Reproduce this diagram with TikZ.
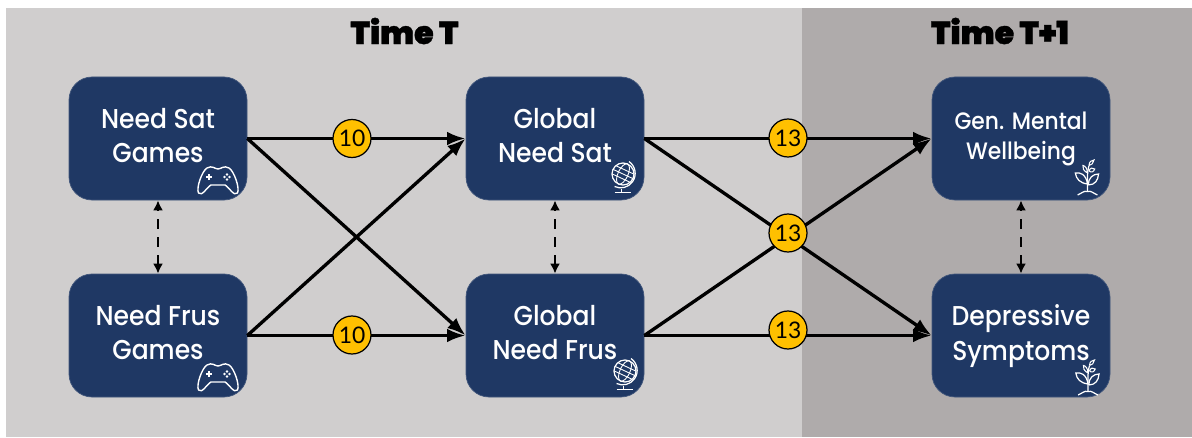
\documentclass[tikz,border=0pt]{standalone}
\usepackage{fontspec}
\setmainfont[FakeStretch=0.92]{Poppins Medium}
\newfontfamily\titlefont[FakeBold=1.2]{Poppins Black}
\newfontfamily\badgefont{Lato}
\usetikzlibrary{arrows.meta}
\definecolor{navyblock}{HTML}{1F3864}
\definecolor{paneltime}{HTML}{D0CECE}
\definecolor{paneltimenext}{HTML}{AFABAB}
\definecolor{badgegold}{HTML}{FFC000}
\tikzset{
    gamepad/.pic={
        \draw[white, line width=0.8pt, line join=round]
            (-0.22,0.26) .. controls (-0.12,0.32) and (-0.06,0.24) .. (0,0.24)
            .. controls (0.06,0.24) and (0.12,0.32) .. (0.22,0.26)
            .. controls (0.32,0.2) and (0.44,-0.14) .. (0.39,-0.24)
            .. controls (0.32,-0.32) and (0.22,-0.12) .. (0.14,-0.08)
            -- (-0.14,-0.08)
            .. controls (-0.22,-0.12) and (-0.32,-0.32) .. (-0.39,-0.24)
            .. controls (-0.44,-0.14) and (-0.32,0.2) .. (-0.22,0.26) -- cycle;
        \draw[white, line width=0.7pt] (-0.24,0.08) -- (-0.12,0.08) (-0.18,0.02) -- (-0.18,0.14);
        \draw[white, line width=0.6pt] (0.18,0.13) circle (0.014) (0.18,0.03) circle (0.014)
            (0.13,0.08) circle (0.014) (0.23,0.08) circle (0.014);
    },
    globe/.pic={
        \draw[white, line width=0.7pt] (0,0.08) circle (0.22);
        \begin{scope}[rotate around={-25:(0,0.08)}]
            \draw[white, line width=0.5pt] (0,0.08) ellipse (0.1 and 0.22);
            \draw[white, line width=0.5pt] (-0.2,0.17) -- (0.2,0.17) (-0.22,0.08) -- (0.22,0.08) (-0.2,-0.01) -- (0.2,-0.01);
        \end{scope}
        \draw[white, line width=0.7pt] (0.12,0.33) arc (55:-115:0.29);
        \draw[white, line width=0.8pt] (-0.03,-0.21) -- (-0.03,-0.27) (-0.17,-0.29) -- (0.15,-0.29);
    },
    plant/.pic={
        \draw[white, line width=0.7pt] (0,-0.27) .. controls (0,-0.1) and (-0.02,0.1) .. (0.04,0.25);
        \draw[white, line width=0.7pt] (-0.26,-0.34) .. controls (-0.14,-0.3) and (-0.1,-0.25) .. (0,-0.27)
            .. controls (0.1,-0.25) and (0.14,-0.3) .. (0.26,-0.34);
        \draw[white, line width=0.7pt] (0,-0.12) .. controls (-0.2,-0.1) and (-0.3,-0.02) .. (-0.32,0.1)
            .. controls (-0.2,0.12) and (-0.04,0.08) .. (0,-0.12);
        \draw[white, line width=0.7pt] (0.02,-0.14) .. controls (0.02,0) and (0.14,0.08) .. (0.29,0.08)
            .. controls (0.28,-0.04) and (0.2,-0.14) .. (0.02,-0.14);
        \draw[white, line width=0.6pt] (0,0.1) .. controls (-0.1,0.14) and (-0.14,0.2) .. (-0.12,0.25) .. controls (-0.06,0.25) and (0,0.18) .. (0,0.1);
        \draw[white, line width=0.6pt] (0.04,0.14) .. controls (0.06,0.2) and (0.14,0.22) .. (0.19,0.18) .. controls (0.16,0.12) and (0.1,0.1) .. (0.04,0.14);
        \draw[white, line width=0.6pt] (0.04,0.25) .. controls (0.04,0.32) and (0.1,0.36) .. (0.17,0.36) .. controls (0.16,0.3) and (0.1,0.25) .. (0.04,0.25);
    }
}
\begin{document}
\begin{tikzpicture}
    \tikzset{
        block/.style={rectangle, rounded corners=0.46cm, draw=navyblock!85!white, fill=navyblock, text=white,
                      minimum width=3.56cm, minimum height=2.46cm, text depth=0.12cm, align=center, font=\fontsize{15.5}{19.5}\selectfont},
        arrow/.style={-{Latex[length=0.37cm,width=0.27cm]}, line width=1.9pt},
        link/.style={{Latex[length=0.2cm,width=0.2cm]}-{Latex[length=0.2cm,width=0.2cm]}, line width=1.5pt, dash pattern=on 5.7pt off 4.5pt},
        badge/.style={circle, draw=black, line width=0.7pt, fill=badgegold, minimum size=0.76cm, inner sep=0pt, font=\badgefont\fontsize{13}{13}\selectfont},
        heading/.style={font=\titlefont\fontsize{18}{18}\selectfont, text=black}
    }
    \useasboundingbox (0,0) rectangle (23.84,8.74);

    % Panels
    \fill[paneltime] (0.12,0) rectangle (16.04,8.58);
    \fill[paneltimenext] (16.04,0) rectangle (23.84,8.58);
    \node[heading] (timenow) at (8.09,8.12) {Time T};
    \node[heading] (timenext) at (20,8.12) {Time T+1};

    % Blocks
    \node[block] (satgames) at (3.16,5.97) {Need Sat\\Games};
    \node[block] (frusgames) at (3.16,2.03) {Need Frus\\Games};
    \node[block] (globalsat) at (11.1,5.97) {Global\\Need Sat};
    \node[block] (globalfrus) at (11.1,2.03) {Global\\Need Frus};
    \node[block, font=\fontsize{13.5}{17}\selectfont] (wellbeing) at (20.42,5.97) {Gen. Mental\\Wellbeing};
    \node[block] (depressive) at (20.42,2.03) {Depressive\\Symptoms};

    % Connections
    \draw[arrow] (satgames.east) -- (globalsat.west);
    \draw[arrow] (frusgames.east) -- (globalfrus.west);
    \draw[arrow] (satgames.east) -- (globalfrus.west);
    \draw[arrow] (frusgames.east) -- (globalsat.west);
    \draw[arrow] (globalsat.east) -- (depressive.west);
    \draw[arrow] (globalfrus.east) -- (wellbeing.west);
    \draw[arrow] (globalsat.east) -- (wellbeing.west);
    \draw[arrow] (globalfrus.east) -- (depressive.west);

    % Badges
    \node[badge] (badgea) at (7.04,5.97) {10};
    \node[badge] (badgeb) at (7.04,2.04) {10};
    \node[badge] (badgec) at (15.76,5.98) {13};
    \node[badge] (badged) at (15.76,4.08) {13};
    \node[badge] (badgee) at (15.76,2.14) {13};

    % Correlations
    \draw[link] (frusgames.north) -- (satgames.south);
    \draw[link] (globalfrus.north) -- (globalsat.south);
    \draw[link] (depressive.north) -- (wellbeing.south);

    % Icons
    \pic at (4.36,5.12) {gamepad};
    \pic at (4.36,1.18) {gamepad};
    \pic at (12.46,5.18) {globe};
    \pic at (12.5,1.24) {globe};
    \pic[xscale=0.76] at (21.75,5.18) {plant};
    \pic[xscale=0.76] at (21.76,1.18) {plant};
\end{tikzpicture}
\end{document}
